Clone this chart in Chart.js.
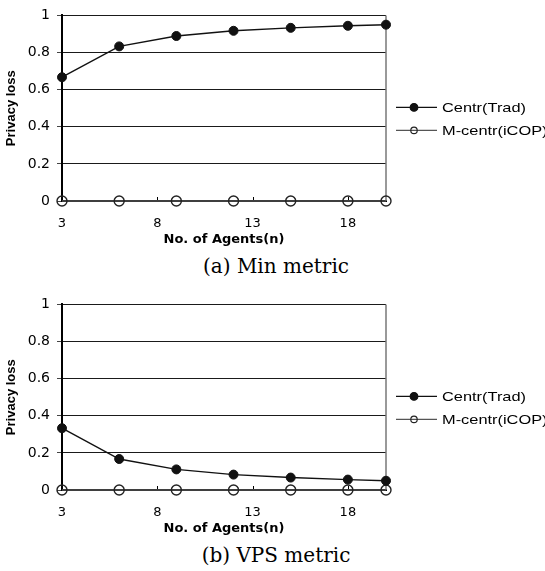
<!DOCTYPE html>
<html><head><meta charset="utf-8">
<script src="https://cdn.jsdelivr.net/npm/chart.js@4/dist/chart.umd.min.js"></script>
<style>
html,body{margin:0;padding:0;background:#fff;width:545px;height:571px;overflow:hidden;position:relative}
canvas{position:absolute;left:0}
#c1{top:0}
#c2{top:289px}
.cap{position:absolute;left:6px;width:540px;text-align:center;font-family:"DejaVu Serif";font-size:20px;color:#000;line-height:22px;white-space:nowrap}
</style></head><body>
<canvas id="c1" width="545" height="250" style="width:545px;height:250px"></canvas>
<canvas id="c2" width="545" height="250" style="width:545px;height:250px"></canvas>
<div class="cap" id="cap1" style="top:255px"></div>
<div class="cap" id="cap2" style="top:544px"></div>
<script>
// ---- data ----
const agents = [3, 6, 9, 12, 15, 18, 20];
const minCentr = [0.667, 0.833, 0.889, 0.917, 0.933, 0.944, 0.95];
const minMcentr = [0, 0, 0, 0, 0, 0, 0];
const vpsCentr = [0.333, 0.167, 0.111, 0.083, 0.067, 0.056, 0.05];
const vpsMcentr = [0, 0, 0, 0, 0, 0, 0];
const seriesNames = ['Centr(Trad)', 'M-centr(iCOP)'];
const xTicks = [3, 8, 13, 18];
const yTicks = [0, 0.2, 0.4, 0.6, 0.8, 1];
const xTitle = 'No. of Agents(n)';
const yTitle = 'Privacy loss';
const captions = ['(a) Min metric', '(b) VPS metric'];

document.getElementById('cap1').textContent = captions[0];
document.getElementById('cap2').textContent = captions[1];

const SANS = 'DejaVu Sans';

const framePlugin = {
  id: 'frame',
  beforeDatasetsDraw(chart) {
    const {ctx, chartArea: ca, scales: {x}} = chart;
    ctx.save();
    ctx.strokeStyle = '#777';
    ctx.lineWidth = 1.5;
    ctx.beginPath();
    ctx.moveTo(ca.right, ca.top);
    ctx.lineTo(ca.right, ca.bottom);
    ctx.stroke();
    ctx.strokeStyle = '#000';
    ctx.lineWidth = 1;
    xTicks.forEach(v => {
      const px = Math.round(x.getPixelForValue(v)) + 0.5;
      ctx.beginPath();
      ctx.moveTo(px, ca.bottom);
      ctx.lineTo(px, ca.bottom - 4);
      ctx.stroke();
    });
    ctx.restore();
  },
  afterDraw(chart) {
    const {ctx, chartArea: ca} = chart;
    ctx.save();
    chart.data.datasets.forEach((d, i) => {
      const y = ca.top + 92 + i * 23;
      const x0 = ca.right + 10;
      ctx.strokeStyle = d.borderColor;
      ctx.lineWidth = d.borderWidth;
      ctx.beginPath();
      ctx.moveTo(x0, y);
      ctx.lineTo(x0 + 41, y);
      ctx.stroke();
      ctx.beginPath();
      ctx.arc(x0 + 18, y, d.legendRadius, 0, Math.PI * 2);
      ctx.fillStyle = d.pointBackgroundColor;
      ctx.fill();
      ctx.strokeStyle = d.pointBorderColor;
      ctx.lineWidth = 1.2;
      ctx.stroke();
      // legend text: Arial-like face, widened like the reference
      ctx.save();
      ctx.translate(x0 + 46, y + 1);
      ctx.scale(1.26, 1);
      ctx.fillStyle = '#000';
      ctx.font = '13px "Liberation Sans"';
      ctx.textBaseline = 'middle';
      ctx.textAlign = 'left';
      ctx.fillText(d.label, 0, 0);
      ctx.restore();
    });
    ctx.restore();
  }
};

function makeChart(id, centr, mcentr) {
  const toPts = arr => agents.map((a, i) => ({x: a, y: arr[i]}));
  return new Chart(document.getElementById(id), {
    type: 'line',
    data: {
      datasets: [
        {
          label: seriesNames[0], data: toPts(centr),
          borderColor: '#111', borderWidth: 1.4,
          pointRadius: 4.5, pointBackgroundColor: '#111', pointBorderColor: '#111', pointBorderWidth: 1,
          legendRadius: 3.8, tension: 0, clip: false, order: 1
        },
        {
          label: seriesNames[1], data: toPts(mcentr),
          borderColor: '#555', borderWidth: 1.4,
          pointRadius: 5, pointBackgroundColor: 'rgba(255,255,255,0)', pointBorderColor: '#222', pointBorderWidth: 1.4,
          legendRadius: 3.2, tension: 0, clip: false, order: 2
        }
      ]
    },
    options: {
      responsive: false, animation: false, devicePixelRatio: 1,
      layout: {padding: {left: 0, right: 159, top: 11, bottom: 0}},
      plugins: {legend: {display: false}, tooltip: {enabled: false}},
      scales: {
        x: {
          type: 'linear', min: 3, max: 20,
          afterBuildTicks: s => { s.ticks = xTicks.map(v => ({value: v})); },
          afterFit: s => { s.height = 49; },
          grid: {display: false, drawTicks: false, tickLength: 0},
          border: {display: true, color: '#000', width: 2},
          ticks: {color: '#000', font: {family: SANS, size: 13}, padding: 15, maxRotation: 0, autoSkip: false},
          title: {display: true, text: xTitle, color: '#000', font: {family: SANS, size: 13, weight: 'bold'}, padding: {top: 0, bottom: 3}}
        },
        y: {
          min: 0, max: 1,
          afterBuildTicks: s => { s.ticks = yTicks.map(v => ({value: v})); },
          afterFit: s => { s.width = 62; },
          grid: {color: '#1a1a1a', lineWidth: 1, drawTicks: true, tickLength: 5, tickColor: '#444'},
          border: {display: true, color: '#000', width: 2},
          ticks: {color: '#000', font: {family: SANS, size: 14}, padding: 7, callback: v => String(v)},
          title: {display: true, text: yTitle, color: '#000', font: {family: 'Liberation Sans', size: 13, weight: 'bold'}, padding: {top: 4, bottom: 0}}
        }
      }
    },
    plugins: [framePlugin]
  });
}

makeChart('c1', minCentr, minMcentr);
makeChart('c2', vpsCentr, vpsMcentr);
</script>
</body></html>
